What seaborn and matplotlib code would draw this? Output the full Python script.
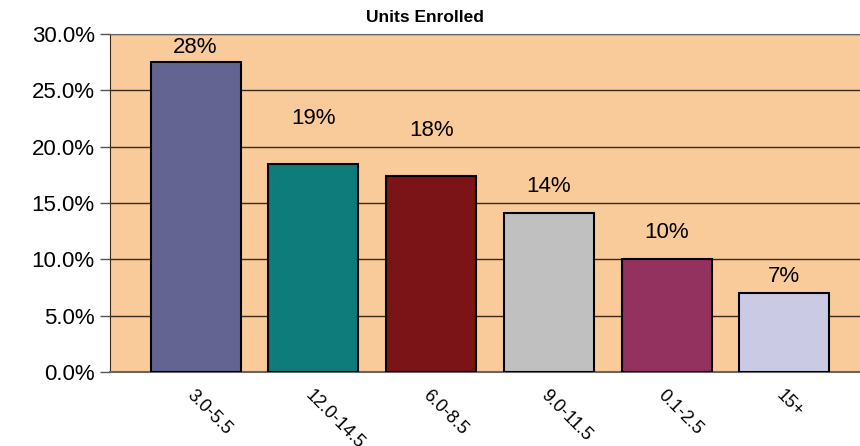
import matplotlib
matplotlib.use("Agg")
import matplotlib.pyplot as plt
import seaborn as sns
import pandas as pd

# Units enrolled share (%)
categories = ["3.0-5.5", "12.0-14.5", "6.0-8.5", "9.0-11.5", "0.1-2.5", "15+"]
shares = [27.5, 18.5, 17.4, 14.1, 10.0, 7.0]
labels = ["28%", "19%", "18%", "14%", "10%", "7%"]
colors = ["#646493", "#0E7C7B", "#7A1416", "#C0C0C0", "#93325E", "#CACAE5"]
y_ticks = [0, 5, 10, 15, 20, 25, 30]
y_tick_labels = ["0.0%", "5.0%", "10.0%", "15.0%", "20.0%", "25.0%", "30.0%"]

# label placement above each bar (as in the source chart)
label_gap = [1.3, 4.0, 4.0, 2.4, 2.4, 1.5]

df = pd.DataFrame({"units": categories, "share": shares})

sns.set_style("white")
plt.rcParams["font.family"] = ["Liberation Sans", "DejaVu Sans"]
plt.rcParams["text.color"] = "black"
plt.rcParams["xtick.color"] = "black"
plt.rcParams["ytick.color"] = "black"

fig = plt.figure(figsize=(8.6, 4.46), dpi=100)
ax = fig.add_axes([110 / 860, 74 / 446, 760 / 860, 338 / 446])
ax.set_facecolor("#FACB9A")

sns.barplot(data=df, x="units", y="share", hue="units", palette=colors,
            legend=False, width=0.765, edgecolor="black", linewidth=1.5,
            saturation=1, ax=ax, zorder=3)

for i, (v, lab) in enumerate(zip(shares, labels)):
    ax.text(i, v + label_gap[i], lab, ha="center", va="center", fontsize=16,
            color="black", zorder=4)

ax.set_xlim(-0.727, 5.727)
ax.set_ylim(0, 30)
ax.set_yticks(y_ticks)
ax.set_yticklabels(y_tick_labels, fontsize=16)
ax.yaxis.grid(True, color="#3a2a1a", linewidth=1)
ax.set_axisbelow(True)

ax.tick_params(axis="y", which="both", left=True, length=7, width=1,
               color="#555555", labelcolor="black", pad=4)
ax.tick_params(axis="x", bottom=False, pad=7, labelcolor="black")
ax.set_xticks(range(len(categories)))
ax.set_xticklabels(categories, rotation=-45, ha="left", va="top",
                   rotation_mode="anchor", fontsize=13)

ax.set_xlabel("")
ax.set_ylabel("")
ax.spines["right"].set_visible(False)
ax.spines["left"].set_color("#3a2a1a")
ax.spines["top"].set_color("#666666")
ax.spines["bottom"].set_color("#666666")
ax.spines["bottom"].set_linewidth(1.5)

fig.text(425 / 860, 1 - 18 / 446, "Units Enrolled", ha="center", va="center",
         fontsize=12.5, fontweight="bold", color="black")

fig.savefig("out.png", dpi=100)
